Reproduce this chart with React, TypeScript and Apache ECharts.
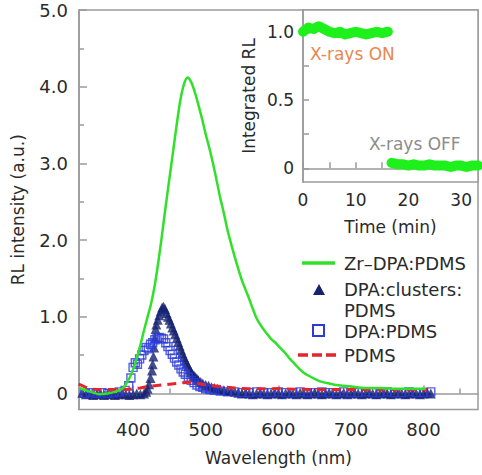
import React, { useEffect, useRef } from "react";
import * as echarts from "echarts";

// ---- Main panel data (wavelength in nm, RL intensity a.u.) ----
const greenX = [326,335,345,353,365,375,385,390,395,400,405,410,415,420,425,430,435,440,445,450,455,460,465,470,475,480,485,490,495,500,505,510,515,520,525,530,535,540,545,550,555,560,565,570,575,580,585,590,595,600,605,610,615,620,625,630,635,640,650,660,670,680,690,700,720,740,760,780,803];
const greenY = [0.07,0.04,0.01,-0.01,0.0,0.02,0.06,0.12,0.2,0.31,0.46,0.63,0.82,1.0,1.18,1.42,1.73,2.08,2.45,2.8,3.15,3.5,3.82,4.03,4.12,4.06,3.93,3.76,3.58,3.38,3.2,3.0,2.78,2.55,2.35,2.13,1.95,1.78,1.62,1.47,1.35,1.23,1.1,0.98,0.9,0.83,0.77,0.71,0.67,0.62,0.57,0.52,0.46,0.41,0.36,0.31,0.27,0.24,0.19,0.15,0.13,0.11,0.1,0.09,0.07,0.07,0.06,0.06,0.06];

const triX = [325,330,335,340,345,350,355,360,365,370,375,380,385,390,395,400,405,410,415,
  418,420,422,424,426,427,428,429,430,431,432,434,436,438,440,442,444,446,448,450,452,454,456,458,460,462,464,466,468,470,472,474,476,478,480,482,484,486,488,490,493,496,500,504,508,512,516,520,525,530,535,
  540,545,550,555,560,565,570,575,580,585,590,595,600,605,610,615,620,625,630,635,640,645,650,655,660,665,670,675,680,685,690,695,700,705,710,715,720,725,730,735,740,745,750,755,760,765,770,775,780,785,790,795,800,805,810];
const triY = [0.02,0.01,-0.01,0,-0.02,-0.01,0,-0.02,-0.01,0,-0.02,-0.01,0,-0.01,-0.02,-0.01,0,-0.01,0,
  0.02,0.06,0.12,0.2,0.3,0.38,0.48,0.6,0.72,0.84,0.9,0.96,1.02,1.07,1.12,1.13,1.1,1.05,1.0,0.96,0.91,0.86,0.82,0.77,0.72,0.67,0.62,0.57,0.52,0.47,0.43,0.39,0.35,0.31,0.28,0.25,0.23,0.21,0.19,0.17,0.15,0.13,0.11,0.1,0.08,0.07,0.06,0.05,0.04,0.03,0.03,
  0.02,0.01,0,0.01,0,-0.01,0,0.01,0,-0.01,
  0,0.01,0,-0.01,0,0.01,0,-0.01,0.01,0,
  -0.01,0,0.01,0,-0.01,0,0.01,0,-0.01,0,
  0.01,-0.01,0,0.01,0,-0.01,0,0.01,0,-0.01,
  0,0.01,0,-0.01,0,0.01,0,-0.01,0,0.01,
  0,-0.01,0,0.01,0];

const sqX = [325,333,341,349,357,365,373,381,389,394,397,
  400,403,406,409,412,415,418,421,424,427,430,433,436,439,442,445,448,451,454,457,460,463,466,469,472,
  476,480,484,488,492,496,500,506,512,520,530,
  540,550,560,570,580,590,600,610,620,630,640,650,660,670,680,690,700,710,720,730,740,750,760,770,780,790,800,810];
const sqY = [0.01,0,0.01,0,0.01,0,0.01,0.02,0.04,0.1,0.2,
  0.34,0.4,0.38,0.45,0.5,0.56,0.6,0.58,0.64,0.66,0.7,0.72,0.73,0.72,0.71,0.66,0.61,0.56,0.51,0.46,0.41,0.37,0.32,0.28,0.25,
  0.21,0.17,0.14,0.11,0.09,0.08,0.06,0.05,0.04,0.03,0.02,
  0.02,0.01,0.01,0.02,0.01,0.01,0.02,0.01,0.01,0.02,0.01,0.01,0.02,0.01,0.01,0.02,0.01,0.01,0.02,0.01,0.01,0.02,0.01,0.01,0.02,0.01,0.01,0.02];

const redX = [325,330,335,340,350,360,370,380,390,400,410,420,430,440,450,460,470,480,490,500,510,520,540,560,580,600,650,700,750,805];
const redY = [0.12,0.1,0.08,0.06,0.05,0.05,0.05,0.05,0.05,0.06,0.07,0.09,0.1,0.11,0.12,0.13,0.14,0.15,0.13,0.11,0.1,0.09,0.07,0.06,0.06,0.06,0.05,0.05,0.05,0.05];

// ---- Inset data (time in min, integrated RL) ----
const onT = [0,1,2,3,4,5,6,7,8,9,10,11,12,13,14,15,16.1];
const onY = [1.0,1.03,1.02,1.04,1.02,1.0,0.99,1.0,0.98,0.99,1.0,0.99,0.98,0.99,1.0,0.99,1.0];
const offT = [16.8,18,19,20,21,22,23,24,25,26,27,28,29,30,31,32,33.2];
const offY = [0.04,0.03,0.03,0.02,0.03,0.02,0.02,0.03,0.02,0.02,0.02,0.01,0.02,0.02,0.01,0.02,0.02];

// ---- Ticks ----
const mainXMajor = [400,500,600,700,800];
const mainXMinor = [350,450,550,650,750,850];
const mainYMajor = [0,1,2,3,4,5];
const mainYMinor = [0.5,1.5,2.5,3.5,4.5];
const insetXTicks = [0,5,10,15,20,25,30];
const insetXLabels = [0,10,20,30];
const insetYTicks = [0,0.25,0.5,0.75,1.0];
const insetYLabels = [0,0.5,1.0];

const seriesNames = ["Zr\u2013DPA:PDMS", "DPA:clusters:\nPDMS", "DPA:PDMS", "PDMS"];

const FONT = "'DejaVu Sans', sans-serif";
const AX = "#9a9a9a";
const TXT = "#2a2a2a";
const GREEN = "#30e02a";
const NAVY = "#152270";
const BLUE = "#2a3bd8";
const RED = "#e3262e";
const INSET_GREEN = "#1df01a";

const zip = (xs: number[], ys: number[]) => xs.map((x, i) => [x, ys[i]]);
const fmt = (v: number) => (v === 0 ? "0" : v.toFixed(1));

export default function App() {
  const ref = useRef<HTMLDivElement>(null);
  useEffect(() => {
    const chart = echarts.init(ref.current!, null, { renderer: "svg" });
    const axisLine = { show: true, lineStyle: { color: AX, width: 1.5 } };
    const legendText = (x: number, y: number, text: string) => ({
      type: "text", x, y, z: 10,
      style: { text, fill: TXT, fontSize: 18, lineHeight: 21, fontFamily: FONT, verticalAlign: "top" },
    });
    const option: any = {
      animation: false,
      backgroundColor: "#fff",
      grid: [
        { left: 79, top: 10, right: 4, bottom: 65.5, show: true, borderColor: AX, borderWidth: 1.5, backgroundColor: "#fff" },
        { left: 303, top: 10, right: 4, bottom: 293, show: true, borderColor: AX, borderWidth: 1.5, backgroundColor: "#fff" },
      ],
      xAxis: [
        {
          gridIndex: 0, type: "value", min: 325.5, max: 875, position: "bottom",
          axisLine, splitLine: { show: false },
          axisTick: { inside: true, length: 8, customValues: mainXMajor, lineStyle: { color: AX, width: 1.5 } },
          axisLabel: { customValues: mainXMajor, margin: 11, fontSize: 18, fontFamily: FONT, color: TXT },
          name: "Wavelength (nm)", nameLocation: "middle", nameGap: 40,
          nameTextStyle: { fontSize: 17, fontFamily: FONT, color: TXT },
        },
        {
          gridIndex: 0, type: "value", min: 325.5, max: 875, position: "bottom",
          axisLine: { show: false }, splitLine: { show: false }, axisLabel: { show: false },
          axisTick: { inside: true, length: 5, customValues: mainXMinor, lineStyle: { color: AX, width: 1.5 } },
        },
        {
          gridIndex: 1, type: "value", min: 0, max: 33.2, position: "bottom",
          axisLine, splitLine: { show: false },
          axisTick: { inside: true, length: 6, customValues: insetXTicks, lineStyle: { color: AX, width: 1.5 } },
          axisLabel: { customValues: insetXLabels, margin: 9, fontSize: 17, fontFamily: FONT, color: TXT },
          name: "Time (min)", nameLocation: "middle", nameGap: 36,
          nameTextStyle: { fontSize: 17, fontFamily: FONT, color: TXT },
        },
      ],
      yAxis: [
        {
          gridIndex: 0, type: "value", min: -0.21, max: 5, position: "left",
          axisLine, splitLine: { show: false },
          axisTick: { inside: true, length: 8, customValues: mainYMajor, lineStyle: { color: AX, width: 1.5 } },
          axisLabel: { customValues: mainYMajor, margin: 11, fontSize: 18, fontFamily: FONT, color: TXT, formatter: fmt },
          name: "RL intensity (a.u.)", nameLocation: "middle", nameGap: 53,
          nameTextStyle: { fontSize: 17, fontFamily: FONT, color: TXT },
        },
        {
          gridIndex: 0, type: "value", min: -0.21, max: 5, position: "left",
          axisLine: { show: false }, splitLine: { show: false }, axisLabel: { show: false },
          axisTick: { inside: true, length: 5, customValues: mainYMinor, lineStyle: { color: AX, width: 1.5 } },
        },
        {
          gridIndex: 1, type: "value", min: -0.1, max: 1.159, position: "left",
          axisLine, splitLine: { show: false },
          axisTick: { inside: true, length: 6, customValues: insetYTicks, lineStyle: { color: AX, width: 1.5 } },
          axisLabel: { customValues: insetYLabels, margin: 9, fontSize: 17, fontFamily: FONT, color: TXT, formatter: fmt },
          name: "Integrated RL", nameLocation: "middle", nameGap: 46,
          nameTextStyle: { fontSize: 17, fontFamily: FONT, color: TXT },
        },
      ],
      series: [
        {
          name: seriesNames[1], type: "scatter", xAxisIndex: 0, yAxisIndex: 0,
          symbol: "triangle", symbolSize: [10, 10], z: 2,
          itemStyle: { color: NAVY },
          data: zip(triX, triY),
        },
        {
          name: seriesNames[2], type: "scatter", xAxisIndex: 0, yAxisIndex: 0,
          symbol: "rect", symbolSize: 8, z: 3,
          itemStyle: { color: "rgba(255,255,255,0)", borderColor: BLUE, borderWidth: 1.4 },
          data: zip(sqX, sqY),
        },
        {
          name: seriesNames[3], type: "line", xAxisIndex: 0, yAxisIndex: 0,
          symbol: "none", z: 4,
          lineStyle: { color: RED, width: 3, type: [9, 6] },
          data: zip(redX, redY),
        },
        {
          name: seriesNames[0], type: "line", xAxisIndex: 0, yAxisIndex: 0,
          symbol: "none", smooth: 0.3, z: 5,
          lineStyle: { color: GREEN, width: 2.5 },
          data: zip(greenX, greenY),
        },
        {
          name: "X-rays ON", type: "line", xAxisIndex: 2, yAxisIndex: 2,
          symbol: "none", clip: false, z: 5,
          lineStyle: { color: INSET_GREEN, width: 10, cap: "round", join: "round" },
          data: zip(onT, onY),
        },
        {
          name: "X-rays OFF", type: "line", xAxisIndex: 2, yAxisIndex: 2,
          symbol: "none", clip: true, z: 5,
          lineStyle: { color: INSET_GREEN, width: 10, cap: "round", join: "round" },
          data: zip(offT, offY),
        },
      ],
      graphic: [
        { type: "text", x: 310, y: 54, style: { text: "X-rays ON", fill: "#e8874f", fontSize: 17, fontFamily: FONT, verticalAlign: "middle" }, z: 10 },
        { type: "text", x: 369, y: 144, style: { text: "X-rays OFF", fill: "#8d8d8d", fontSize: 17, fontFamily: FONT, verticalAlign: "middle" }, z: 10 },
        // legend
        { type: "line", shape: { x1: 302, y1: 263, x2: 335, y2: 263 }, style: { stroke: GREEN, lineWidth: 3.5 }, z: 10 },
        legendText(344, 253, seriesNames[0]),
        { type: "polygon", shape: { points: [[319, 284], [313, 295], [325, 295]] }, style: { fill: NAVY }, z: 10 },
        legendText(344, 279, seriesNames[1]),
        { type: "rect", shape: { x: 313, y: 325, width: 11, height: 11 }, style: { fill: "none", stroke: BLUE, lineWidth: 2 }, z: 10 },
        legendText(344, 321, seriesNames[2]),
        { type: "line", shape: { x1: 298, y1: 355, x2: 337, y2: 355 }, style: { stroke: RED, lineWidth: 3.5, lineDash: [10, 4] }, z: 10 },
        legendText(344, 345, seriesNames[3]),
      ],
    };
    chart.setOption(option);
    return () => chart.dispose();
  }, []);
  return (
    <div
      ref={ref}
      style={{ position: "fixed", left: 0, top: 0, width: 482, height: 475, background: "#fff" }}
    />
  );
}
